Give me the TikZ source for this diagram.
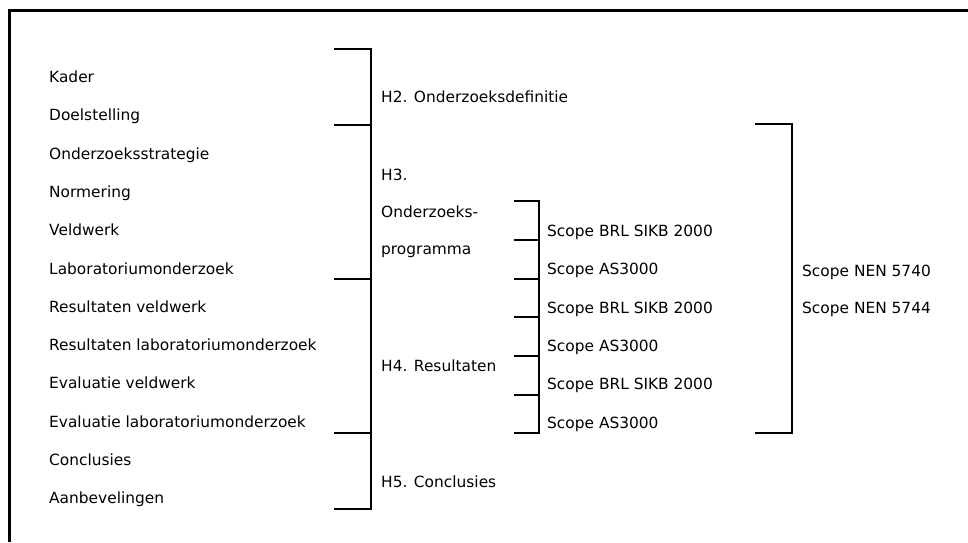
\documentclass[tikz,border=0pt]{standalone}
\usepackage{fontspec}
\setmainfont{DejaVu Sans}
\begin{document}
\begin{tikzpicture}[x=1pt,y=-1pt,
  lbl/.style={anchor=base west,inner sep=0pt,font=\fontsize{15.4}{18}\selectfont},
  brk/.style={line width=2pt,line join=miter},
  frame/.style={line width=3pt}]
\useasboundingbox (0,0) rectangle (968,542);
% frame (left and top edges)
\coordinate (fb) at (9.5,542);
\coordinate (fc) at (9.5,10.5);
\coordinate (fr) at (968,10.5);
\draw[frame] (fb) -- (fc) -- (fr);
% left column
\foreach \t [count=\i from 0] in {Kader,Doelstelling,Onderzoeksstrategie,Normering,Veldwerk,Laboratoriumonderzoek,Resultaten veldwerk,Resultaten laboratoriumonderzoek,Evaluatie veldwerk,Evaluatie laboratoriumonderzoek,Conclusies,Aanbevelingen}
  \node[lbl] (l\i) at (49,{82.5+38.3*\i}) {\t};
% chapter labels
\node[lbl] (h2) at (381,102) {H2. Onderzoeksdefinitie};
\node[lbl] (h3a) at (381,180) {H3.};
\node[lbl] (h3b) at (381,217) {Onderzoeks-};
\node[lbl] (h3c) at (381,254) {programma};
\node[lbl] (h4) at (381,371) {H4. Resultaten};
\node[lbl] (h5) at (381,487) {H5. Conclusies};
% scope labels
\foreach \t [count=\i from 1] in {Scope BRL SIKB 2000,Scope AS3000,Scope BRL SIKB 2000,Scope AS3000,Scope BRL SIKB 2000,Scope AS3000}
  \node[lbl] (s\i) at (547,{236.5+38.3*(\i-1)}) {\t};
\node[lbl] (n1) at (802,276.5) {Scope NEN 5740};
\node[lbl] (n2) at (802,313) {Scope NEN 5744};
% big bracket
\coordinate (a1) at (334,49);   \coordinate (b1) at (370.5,49);
\coordinate (a2) at (334,125);  \coordinate (b2) at (370.5,125);
\coordinate (a3) at (334,278.5);\coordinate (b3) at (370.5,278.5);
\coordinate (a4) at (334,432.5);\coordinate (b4) at (370.5,432.5);
\coordinate (a5) at (334,509);  \coordinate (b5) at (370.5,509);
\draw[brk] (a1) -- (b1) -- (b5) -- (a5);
\draw[brk] (a2) -- (b2);
\draw[brk] (a3) -- (b3);
\draw[brk] (a4) -- (b4);
% small bracket
\foreach \y [count=\i] in {201,240,279,317,356,395,433}{
  \coordinate (c\i) at (514,\y); \coordinate (d\i) at (539,\y);}
\draw[brk] (c1) -- (d1) -- (d7) -- (c7);
\foreach \i in {2,...,6} \draw[brk] (c\i) -- (d\i);
% right bracket
\coordinate (e1) at (755,124); \coordinate (f1) at (792,124);
\coordinate (e2) at (755,433); \coordinate (f2) at (792,433);
\draw[brk] (e1) -- (f1) -- (f2) -- (e2);
\end{tikzpicture}
\end{document}
